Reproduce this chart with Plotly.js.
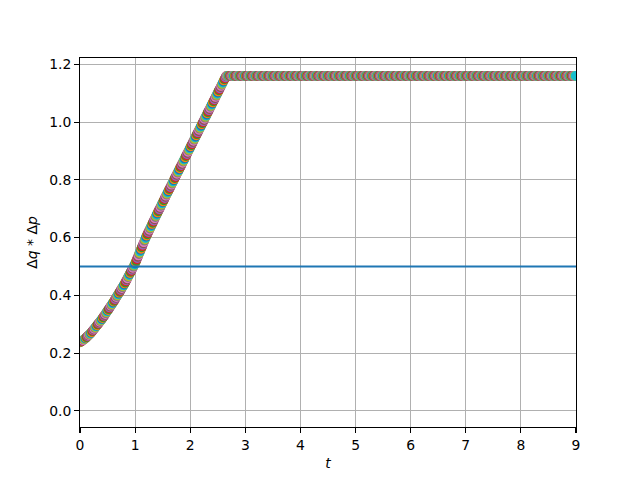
<!DOCTYPE html>
<html>
<head>
<meta charset="utf-8">
<script src="https://cdn.plot.ly/plotly-3.0.1.min.js"></script>
<style>html,body{margin:0;padding:0;background:#fff;}#chart{width:640px;height:480px;}</style>
</head>
<body>
<div id="chart"></div>
<script>
// time step of the samples (t = 0.00, 0.01, ..., 8.99)
const tStart = 0;
const tStep = 0.01;

// rising part, t = 0.00 .. 2.65
const productRise = [
0.237,0.238,0.240,0.241,0.243,0.244,0.245,0.247,0.248,0.250,
0.251,0.253,0.255,0.257,0.259,0.261,0.262,0.264,0.266,0.268,
0.270,0.272,0.275,0.277,0.280,0.282,0.284,0.287,0.289,0.292,
0.294,0.296,0.299,0.301,0.304,0.306,0.308,0.311,0.313,0.316,
0.318,0.321,0.324,0.327,0.329,0.332,0.335,0.338,0.341,0.344,
0.347,0.349,0.352,0.355,0.358,0.361,0.364,0.366,0.369,0.372,
0.375,0.378,0.381,0.384,0.387,0.391,0.394,0.397,0.400,0.403,
0.406,0.409,0.412,0.415,0.418,0.422,0.425,0.428,0.431,0.434,
0.437,0.441,0.444,0.448,0.452,0.455,0.459,0.463,0.466,0.470,
0.474,0.477,0.481,0.484,0.488,0.492,0.495,0.499,0.503,0.506,
0.510,0.515,0.519,0.524,0.529,0.533,0.538,0.543,0.547,0.552,
0.557,0.561,0.566,0.570,0.575,0.580,0.584,0.589,0.594,0.598,
0.603,0.607,0.611,0.615,0.619,0.623,0.627,0.631,0.635,0.639,
0.643,0.647,0.651,0.655,0.659,0.663,0.667,0.671,0.675,0.679,
0.683,0.687,0.691,0.695,0.698,0.702,0.706,0.710,0.714,0.718,
0.722,0.725,0.729,0.733,0.737,0.741,0.745,0.749,0.752,0.756,
0.760,0.764,0.768,0.771,0.775,0.779,0.783,0.787,0.790,0.794,
0.798,0.802,0.806,0.809,0.813,0.817,0.821,0.825,0.828,0.832,
0.836,0.840,0.844,0.847,0.851,0.855,0.859,0.863,0.866,0.870,
0.874,0.878,0.882,0.885,0.889,0.893,0.897,0.901,0.904,0.908,
0.912,0.916,0.920,0.923,0.927,0.931,0.935,0.939,0.942,0.946,
0.950,0.954,0.958,0.961,0.965,0.969,0.973,0.977,0.980,0.984,
0.988,0.992,0.996,0.999,1.003,1.007,1.011,1.015,1.018,1.022,
1.026,1.030,1.034,1.037,1.041,1.045,1.049,1.053,1.056,1.060,
1.064,1.068,1.072,1.075,1.079,1.083,1.087,1.091,1.094,1.098,
1.102,1.106,1.110,1.113,1.117,1.121,1.125,1.129,1.132,1.136,
1.140,1.144,1.148,1.151,1.155,1.159
];

// plateau, t = 2.66 .. 8.99
const productFlat = [
1.16,1.16,1.16,1.16,
1.16,1.16,1.16,1.16,1.16,1.16,1.16,1.16,1.16,1.16, 1.16,1.16,1.16,1.16,1.16,1.16,1.16,1.16,1.16,1.16, 1.16,1.16,1.16,1.16,1.16,1.16,1.16,1.16,1.16,1.16,
1.16,1.16,1.16,1.16,1.16,1.16,1.16,1.16,1.16,1.16, 1.16,1.16,1.16,1.16,1.16,1.16,1.16,1.16,1.16,1.16, 1.16,1.16,1.16,1.16,1.16,1.16,1.16,1.16,1.16,1.16,
1.16,1.16,1.16,1.16,1.16,1.16,1.16,1.16,1.16,1.16, 1.16,1.16,1.16,1.16,1.16,1.16,1.16,1.16,1.16,1.16, 1.16,1.16,1.16,1.16,1.16,1.16,1.16,1.16,1.16,1.16,
1.16,1.16,1.16,1.16,1.16,1.16,1.16,1.16,1.16,1.16, 1.16,1.16,1.16,1.16,1.16,1.16,1.16,1.16,1.16,1.16, 1.16,1.16,1.16,1.16,1.16,1.16,1.16,1.16,1.16,1.16,
1.16,1.16,1.16,1.16,1.16,1.16,1.16,1.16,1.16,1.16, 1.16,1.16,1.16,1.16,1.16,1.16,1.16,1.16,1.16,1.16, 1.16,1.16,1.16,1.16,1.16,1.16,1.16,1.16,1.16,1.16,
1.16,1.16,1.16,1.16,1.16,1.16,1.16,1.16,1.16,1.16, 1.16,1.16,1.16,1.16,1.16,1.16,1.16,1.16,1.16,1.16, 1.16,1.16,1.16,1.16,1.16,1.16,1.16,1.16,1.16,1.16,
1.16,1.16,1.16,1.16,1.16,1.16,1.16,1.16,1.16,1.16, 1.16,1.16,1.16,1.16,1.16,1.16,1.16,1.16,1.16,1.16, 1.16,1.16,1.16,1.16,1.16,1.16,1.16,1.16,1.16,1.16,
1.16,1.16,1.16,1.16,1.16,1.16,1.16,1.16,1.16,1.16, 1.16,1.16,1.16,1.16,1.16,1.16,1.16,1.16,1.16,1.16, 1.16,1.16,1.16,1.16,1.16,1.16,1.16,1.16,1.16,1.16,
1.16,1.16,1.16,1.16,1.16,1.16,1.16,1.16,1.16,1.16, 1.16,1.16,1.16,1.16,1.16,1.16,1.16,1.16,1.16,1.16, 1.16,1.16,1.16,1.16,1.16,1.16,1.16,1.16,1.16,1.16,
1.16,1.16,1.16,1.16,1.16,1.16,1.16,1.16,1.16,1.16, 1.16,1.16,1.16,1.16,1.16,1.16,1.16,1.16,1.16,1.16, 1.16,1.16,1.16,1.16,1.16,1.16,1.16,1.16,1.16,1.16,
1.16,1.16,1.16,1.16,1.16,1.16,1.16,1.16,1.16,1.16, 1.16,1.16,1.16,1.16,1.16,1.16,1.16,1.16,1.16,1.16, 1.16,1.16,1.16,1.16,1.16,1.16,1.16,1.16,1.16,1.16,
1.16,1.16,1.16,1.16,1.16,1.16,1.16,1.16,1.16,1.16, 1.16,1.16,1.16,1.16,1.16,1.16,1.16,1.16,1.16,1.16, 1.16,1.16,1.16,1.16,1.16,1.16,1.16,1.16,1.16,1.16,
1.16,1.16,1.16,1.16,1.16,1.16,1.16,1.16,1.16,1.16, 1.16,1.16,1.16,1.16,1.16,1.16,1.16,1.16,1.16,1.16, 1.16,1.16,1.16,1.16,1.16,1.16,1.16,1.16,1.16,1.16,
1.16,1.16,1.16,1.16,1.16,1.16,1.16,1.16,1.16,1.16, 1.16,1.16,1.16,1.16,1.16,1.16,1.16,1.16,1.16,1.16, 1.16,1.16,1.16,1.16,1.16,1.16,1.16,1.16,1.16,1.16,
1.16,1.16,1.16,1.16,1.16,1.16,1.16,1.16,1.16,1.16, 1.16,1.16,1.16,1.16,1.16,1.16,1.16,1.16,1.16,1.16, 1.16,1.16,1.16,1.16,1.16,1.16,1.16,1.16,1.16,1.16,
1.16,1.16,1.16,1.16,1.16,1.16,1.16,1.16,1.16,1.16, 1.16,1.16,1.16,1.16,1.16,1.16,1.16,1.16,1.16,1.16, 1.16,1.16,1.16,1.16,1.16,1.16,1.16,1.16,1.16,1.16,
1.16,1.16,1.16,1.16,1.16,1.16,1.16,1.16,1.16,1.16, 1.16,1.16,1.16,1.16,1.16,1.16,1.16,1.16,1.16,1.16, 1.16,1.16,1.16,1.16,1.16,1.16,1.16,1.16,1.16,1.16,
1.16,1.16,1.16,1.16,1.16,1.16,1.16,1.16,1.16,1.16, 1.16,1.16,1.16,1.16,1.16,1.16,1.16,1.16,1.16,1.16, 1.16,1.16,1.16,1.16,1.16,1.16,1.16,1.16,1.16,1.16,
1.16,1.16,1.16,1.16,1.16,1.16,1.16,1.16,1.16,1.16, 1.16,1.16,1.16,1.16,1.16,1.16,1.16,1.16,1.16,1.16, 1.16,1.16,1.16,1.16,1.16,1.16,1.16,1.16,1.16,1.16,
1.16,1.16,1.16,1.16,1.16,1.16,1.16,1.16,1.16,1.16, 1.16,1.16,1.16,1.16,1.16,1.16,1.16,1.16,1.16,1.16, 1.16,1.16,1.16,1.16,1.16,1.16,1.16,1.16,1.16,1.16,
1.16,1.16,1.16,1.16,1.16,1.16,1.16,1.16,1.16,1.16, 1.16,1.16,1.16,1.16,1.16,1.16,1.16,1.16,1.16,1.16, 1.16,1.16,1.16,1.16,1.16,1.16,1.16,1.16,1.16,1.16
];

// reference line
const threshold = 0.5;

// tick labels
const xTicks = [0, 1, 2, 3, 4, 5, 6, 7, 8, 9];
const yTicks = [0.0, 0.2, 0.4, 0.6, 0.8, 1.0, 1.2];

const palette = ['#1f77b4','#ff7f0e','#2ca02c','#d62728','#9467bd',
                 '#8c564b','#e377c2','#7f7f7f','#bcbd22','#17becf'];

const product = productRise.concat(productFlat);
const colors = product.map((_, i) => palette[i % palette.length]);

const font = {family: 'DejaVu Sans, sans-serif', size: 13.9, color: '#000'};

const traces = [{
  type: 'scatter',
  mode: 'markers',
  x0: tStart,
  dx: tStep,
  y: product,
  cliponaxis: true,
  marker: {symbol: 'circle', size: 8.3, color: colors,
           line: {color: colors, width: 1.4}},
  hoverinfo: 'skip',
  showlegend: false
}];

const axisCommon = {
  showline: true, mirror: true, linecolor: '#000', linewidth: 1.1,
  ticks: 'outside', ticklen: 4.9, tickwidth: 1.1, tickcolor: '#000',
  showgrid: true, gridcolor: '#b0b0b0', gridwidth: 1.1,
  zeroline: false, tickfont: font, automargin: false
};

const layout = {
  width: 640, height: 480,
  margin: {l: 80, r: 64, t: 58, b: 53, pad: 0},
  paper_bgcolor: '#fff', plot_bgcolor: '#fff',
  showlegend: false,
  xaxis: Object.assign({}, axisCommon, {
    range: [0, 9], tickmode: 'array', tickvals: xTicks,
    ticktext: xTicks.map(String),
    title: {text: '<i>t</i>', font: font, standoff: 6}
  }),
  yaxis: Object.assign({}, axisCommon, {
    range: [-0.056, 1.222], tickmode: 'array', tickvals: yTicks,
    ticktext: yTicks.map(v => v.toFixed(1)),
    title: {text: 'Δ<i>q</i> * Δ<i>p</i>', font: font, standoff: 8}
  }),
  shapes: [{
    type: 'line', xref: 'paper', x0: 0, x1: 1, yref: 'y', y0: threshold, y1: threshold,
    line: {color: '#1f77b4', width: 2.1}, layer: 'above'
  }]
};

Plotly.newPlot('chart', traces, layout, {staticPlot: true, displayModeBar: false});
</script>
</body>
</html>
